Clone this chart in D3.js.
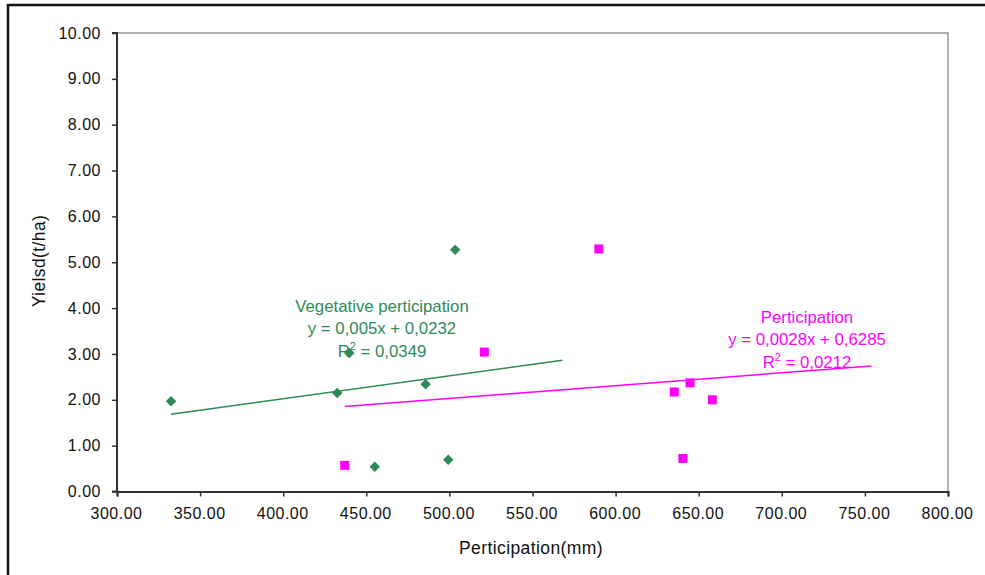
<!DOCTYPE html>
<html><head><meta charset="utf-8">
<script src="https://cdn.jsdelivr.net/npm/d3@7"></script>
<style>body{margin:0;background:#fff;}svg{display:block;}</style>
</head><body>
<svg id="c" width="985" height="575"></svg>
<script>
const vegX = [332.5, 432.5, 439.8, 455.1, 485.7, 499.3, 503.5];
const vegY = [1.97, 2.15, 3.02, 0.54, 2.34, 0.69, 5.27];
const parX = [437.0, 521.0, 589.9, 635.3, 640.5, 644.8, 658.2];
const parY = [0.57, 3.04, 5.29, 2.17, 0.72, 2.37, 2.00];
const vegTrend = {slope: 0.005, intercept: 0.0232, x0: 332.5, x1: 568};
const parTrend = {slope: 0.0028, intercept: 0.6285, x0: 437.0, x1: 754};
const xTicks = [300,350,400,450,500,550,600,650,700,750,800];
const yTicks = [0,1,2,3,4,5,6,7,8,9,10];
const vegLabel = ["Vegetative perticipation", "y = 0,005x + 0,0232", "0,0349"];
const parLabel = ["Perticipation", "y = 0,0028x + 0,6285", "0,0212"];
const xTitle = "Perticipation(mm)";
const yTitle = "Yielsd(t/ha)";

const green = "#2E8B57", pink = "#FF00FF";
const font = "Liberation Sans, Arial, sans-serif";
const svg = d3.select("#c");
const L = 117, R = 948, T = 33, B = 491.5;
const x = d3.scaleLinear().domain([300,800]).range([L,R]);
const y = d3.scaleLinear().domain([0,10]).range([B,T]);

// outer frame
svg.append("rect").attr("x",8).attr("y",5).attr("width",990).attr("height",600)
  .attr("fill","none").attr("stroke","#111").attr("stroke-width",2.5);

// plot border
svg.append("path").attr("d",`M${L},${T}H${R}V${B}`).attr("fill","none").attr("stroke","#999").attr("stroke-width",1.5);

const fmt = d3.format(".2f");
const xa = svg.append("g").attr("transform",`translate(0,${B})`)
  .call(d3.axisBottom(x).tickValues(xTicks).tickFormat(fmt).tickSize(5).tickPadding(11));
const ya = svg.append("g").attr("transform",`translate(${L},0)`)
  .call(d3.axisLeft(y).tickValues(yTicks).tickFormat(fmt).tickSize(5).tickPadding(11));
[xa,ya].forEach(a=>{
  a.select(".domain").attr("stroke","#333").attr("stroke-width",2);
  a.selectAll(".tick line").attr("stroke","#333").attr("stroke-width",1.5);
  a.selectAll(".tick text").attr("font-family",font).attr("font-size",16).attr("letter-spacing",0.5).attr("fill","#111");
});
xa.selectAll(".tick text").attr("dx",-1);
ya.select(".domain").attr("d",`M-5,${B}H0V${T}H-5`);

// trendlines
function trend(t,color){
  svg.append("line").attr("x1",x(t.x0)).attr("y1",y(t.slope*t.x0+t.intercept))
    .attr("x2",x(t.x1)).attr("y2",y(t.slope*t.x1+t.intercept))
    .attr("stroke",color).attr("stroke-width",1.5);
}
trend(vegTrend,green);
trend(parTrend,pink);

// points
const diamond = d3.symbol().type(d3.symbolDiamond2).size(70);
svg.append("g").selectAll("path").data(vegX.map((v,i)=>[v,vegY[i]])).join("path")
  .attr("d",diamond).attr("transform",d=>`translate(${x(d[0])},${y(d[1])})`).attr("fill",green);
svg.append("g").selectAll("rect").data(parX.map((v,i)=>[v,parY[i]])).join("rect")
  .attr("x",d=>x(d[0])-4.5).attr("y",d=>y(d[1])-4.5).attr("width",9).attr("height",9).attr("fill",pink);

// labels
function label(lines,cx,y0,color){
  const g = svg.append("g").attr("font-family",font).attr("font-size",16.8).attr("fill",color).attr("text-anchor","middle");
  g.append("text").attr("x",cx).attr("y",y0).text(lines[0]);
  g.append("text").attr("x",cx).attr("y",y0+22).text(lines[1]);
  const t = g.append("text").attr("x",cx).attr("y",y0+45);
  t.append("tspan").text("R");
  t.append("tspan").attr("dy",-7).attr("font-size",11).text("2");
  t.append("tspan").attr("dy",7).text(" = "+lines[2]);
}
label(vegLabel,382,312,green);
label(parLabel,807,322.5,pink);

// axis titles
svg.append("text").attr("x",531).attr("y",554).attr("text-anchor","middle")
  .attr("font-family",font).attr("font-size",17.5).attr("letter-spacing",0.4).attr("fill","#111").text(xTitle);
svg.append("text").attr("transform","translate(44.5,261) rotate(-90)").attr("text-anchor","middle")
  .attr("font-family",font).attr("font-size",17.5).attr("letter-spacing",0.4).attr("fill","#111").text(yTitle);
</script>
</body></html>
